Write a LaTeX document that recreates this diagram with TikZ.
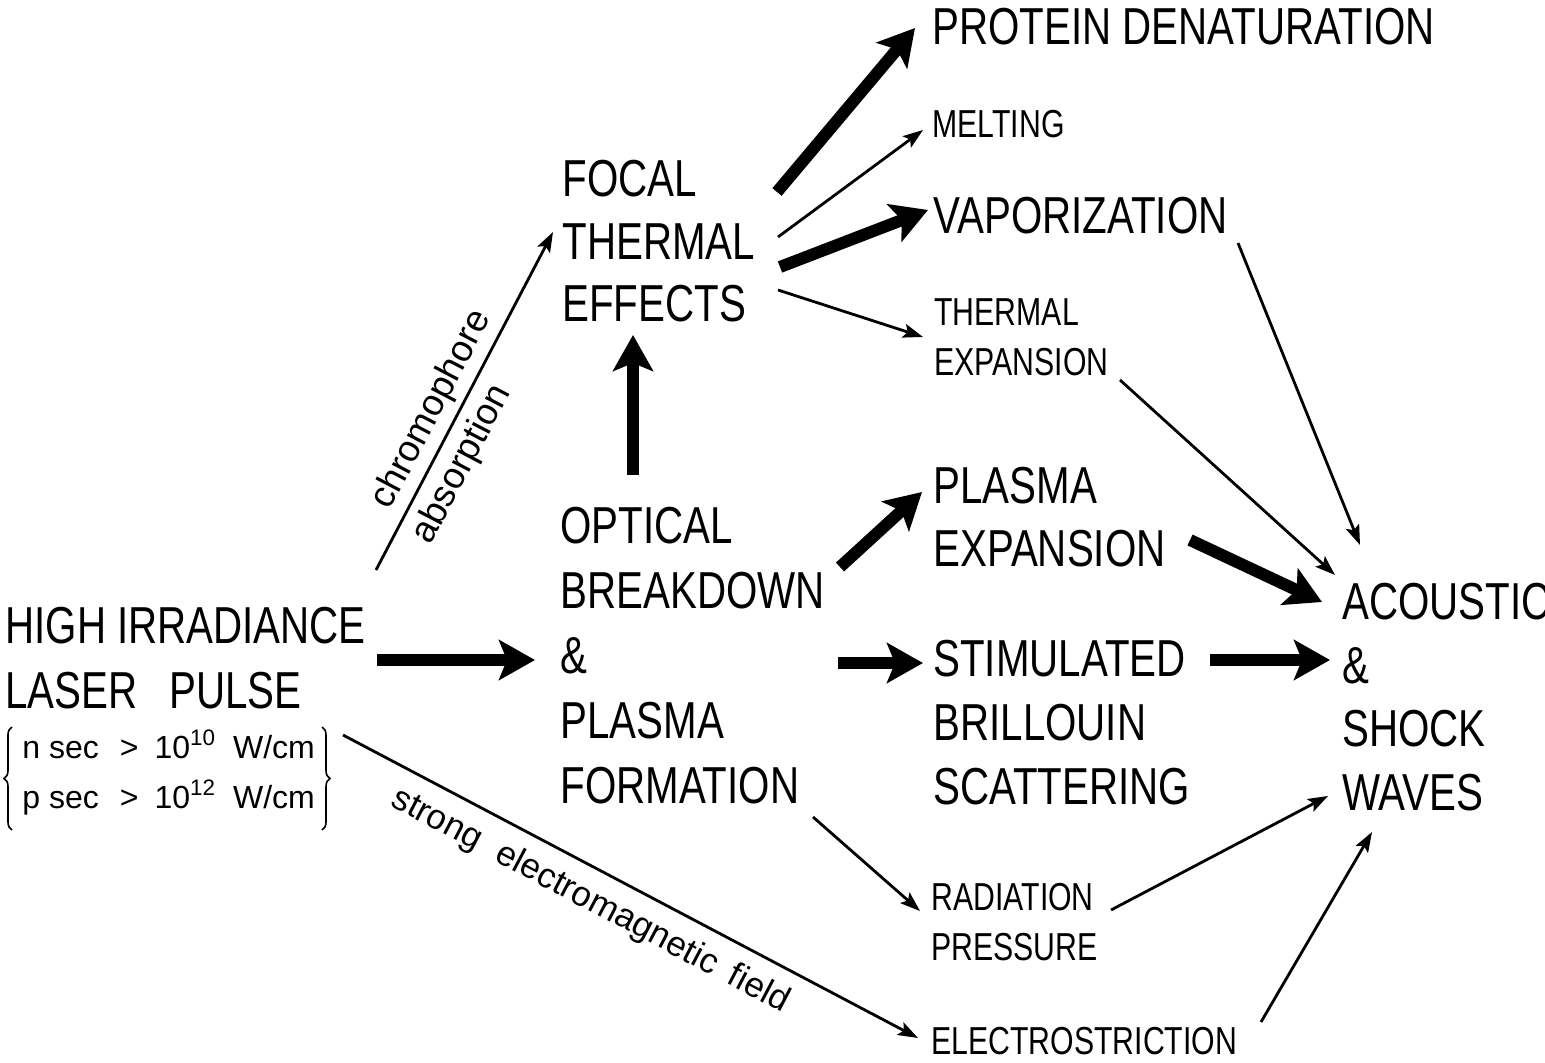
\documentclass[tikz,border=0pt]{standalone}
\usepackage{fontspec}
\setmainfont{Liberation Sans}
\newfontfamily\condfont[FakeStretch=0.775]{Liberation Sans}
\usetikzlibrary{arrows.meta,calc,decorations.pathreplacing}
\tikzset{
  bigtext/.style={inner sep=0pt, anchor=north west, align=left, font=\condfont\fontsize{26}{#1}\selectfont},
  bigtext/.default=32pt,
  midtext/.style={inner sep=0pt, anchor=north west, align=left, font=\condfont\fontsize{19.5}{#1}\selectfont},
  midtext/.default=25pt,
  smalltext/.style={inner sep=0pt, anchor=base west, font=\fontsize{16}{19}\selectfont},
  labeltext/.style={sloped, font=\fontsize{18.5}{22}\selectfont},
  thinarr/.style={line width=1.4pt, -{Stealth[length=10pt,width=7pt,inset=2pt]}},
  thickarr/.style={line width=6pt, -{Stealth[length=18pt,width=20pt,inset=4pt]}},
  bracestyle/.style={line width=0.8pt, decorate, decoration={brace, amplitude=4pt}}
}
\begin{document}
\begin{tikzpicture}[x=0.5pt,y=-0.5pt]
\fill[white] (0,0) rectangle (1545,1063);
\useasboundingbox (0,0) rectangle (1545,1063);

% nodes
\node[bigtext=32.5pt] (laser) at (5,607) {HIGH IRRADIANCE\\LASER\hspace{16pt}PULSE};
\node[smalltext] (nsec) at (22,758) {n sec\hspace{10.5pt}>\hspace{8pt}10\textsuperscript{10}\hspace{8.5pt}W/cm};
\node[smalltext] (psec) at (22,808) {p sec\hspace{10.5pt}>\hspace{8pt}10\textsuperscript{12}\hspace{8.5pt}W/cm};
\draw[bracestyle] (12,830) -- (12,727);
\draw[bracestyle] (322,727) -- (322,830);

\node[bigtext=31.25pt] (focal) at (562,160) {FOCAL\\THERMAL\\EFFECTS};
\node[bigtext=32.5pt] (optical) at (560,507) {OPTICAL\\BREAKDOWN\\\&\\PLASMA\\FORMATION};
\node[bigtext] (protein) at (932,8) {PROTEIN DENATURATION};
\node[midtext] (melting) at (932,110) {MELTING};
\node[bigtext] (vapor) at (933,197) {VAPORIZATION};
\node[midtext] (thermexp) at (934,298) {THERMAL\\EXPANSION};
\node[bigtext=31.5pt] (plasmaexp) at (933,467) {PLASMA\\EXPANSION};
\node[bigtext] (stim) at (933,640) {STIMULATED\\BRILLOUIN\\SCATTERING};
\node[midtext] (radiation) at (931,883) {RADIATION\\PRESSURE};
\node[midtext] (electro) at (931,1027) {ELECTROSTRICTION};
\node[bigtext=31.75pt] (acoustic) at (1342,583) {ACOUSTIC\\\&\\SHOCK\\WAVES};

% connectors
\draw[thinarr] ($(laser.north west)+(371,-37)$) --
  node[labeltext, above, pos=0.44, inner sep=3pt] (lchrom) {chromophore}
  node[labeltext, below, pos=0.35, inner sep=4.5pt] (labs) {absorption}
  ($(focal.north west)+(-9,72)$);
\draw[thickarr] ($(laser.north west)+(372,53)$) -- ($(optical.north west)+(-25,153)$);
\draw[thinarr] ($(laser.north west)+(338,128)$) --
  node[labeltext, below, pos=0.456, inner sep=7pt, font=\fontsize{17.5}{21}\selectfont] (lfield) {strong\hspace{10pt}electromagnetic\hspace{8pt}field}
  ($(electro.north west)+(-13,11)$);
\draw[thickarr] ($(optical.north west)+(73,-32)$) -- ($(focal.north west)+(71,175)$);
\draw[thickarr] ($(focal.north west)+(215,32)$) -- ($(protein.north west)+(-17,20)$);
\draw[thinarr] ($(focal.north west)+(216,77)$) -- ($(melting.north west)+(-9,20)$);
\draw[thickarr] ($(focal.north west)+(218,107)$) -- ($(vapor.north west)+(-5,13)$);
\draw[thinarr] ($(focal.north west)+(216,130)$) -- ($(thermexp.north west)+(-11,39)$);
\draw[thickarr] ($(optical.north west)+(280,60)$) -- ($(plasmaexp.north west)+(-11,25)$);
\draw[thickarr] ($(optical.north west)+(278,156)$) -- ($(stim.north west)+(-10,23)$);
\draw[thinarr] ($(optical.north west)+(253,310)$) -- ($(radiation.north west)+(-11,28)$);
\draw[thinarr] ($(vapor.north west)+(305,46)$) -- ($(acoustic.north west)+(18,-38)$);
\draw[thinarr] ($(thermexp.north west)+(186,82)$) -- ($(acoustic.north west)+(-7,-8)$);
\draw[thickarr] ($(plasmaexp.north west)+(257,73)$) -- ($(acoustic.north west)+(-20,19)$);
\draw[thickarr] ($(stim.north west)+(277,20)$) -- ($(acoustic.north west)+(-12,77)$);
\draw[thinarr] ($(radiation.north west)+(180,27)$) -- ($(acoustic.north west)+(-14,213)$);
\draw[thinarr] ($(electro.north west)+(330,-5)$) -- ($(acoustic.north west)+(30,249)$);
\end{tikzpicture}
\end{document}
